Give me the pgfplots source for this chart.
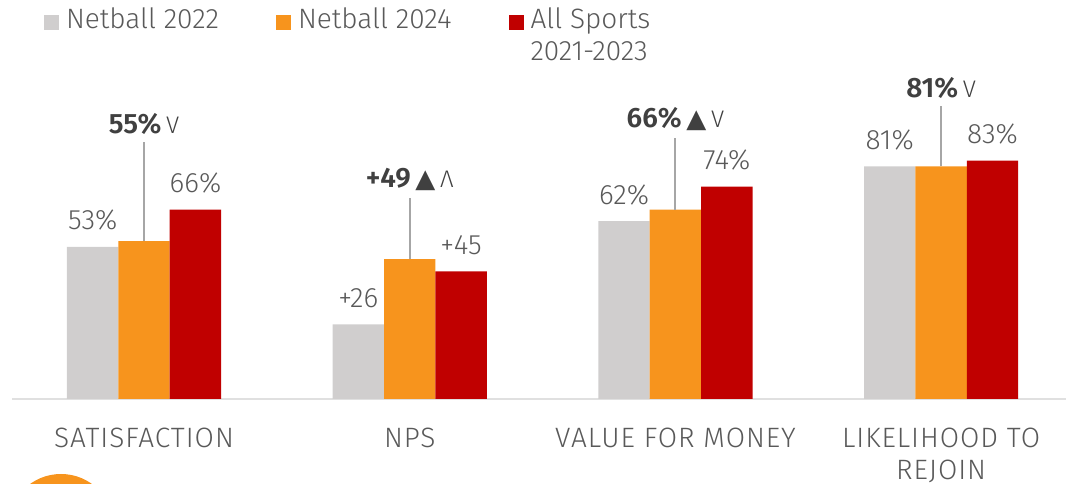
\documentclass[border=0pt]{standalone}
\usepackage{fontspec}
\usepackage{pgfplots}
\pgfplotsset{compat=1.18}
\setmainfont[BoldFont={Fira Sans SemiBold}]{Fira Sans Light}
\definecolor{cgrey}{HTML}{D0CECE}
\newfontfamily\symf{DejaVu Sans}
\definecolor{corange}{HTML}{F7941D}
\definecolor{cred}{HTML}{C00000}
\definecolor{ctext}{HTML}{595959}
\definecolor{cbold}{HTML}{404040}
\definecolor{cline}{HTML}{A6A6A6}
\newcommand{\fs}{\fontsize{28}{32}\selectfont}
\newcommand{\tri}{{\symf\fontsize{26}{26}\selectfont ▲}}
\newcommand{\dn}{{\mdseries\fontsize{24}{24}\selectfont V}}
\newcommand{\up}{{\mdseries\fontsize{24}{24}\selectfont Λ}}
\begin{document}
\begin{tikzpicture}[x=1pt,y=1pt]
\path[use as bounding box] (0,0) rectangle (1066,484);
\fill[corange] (61,-43) circle (53);
\begin{axis}[
  at={(12pt,85pt)}, anchor=south west,
  scale only axis, width=1054pt, height=399pt,
  xmin=-0.497, xmax=3.47, ymin=0, ymax=139,
  clip=false,
  axis x line=bottom, axis y line=none,
  axis line style={draw=black!12, line width=2pt, -},
  xtick={0,1,2,3},
  xticklabels={SATISFACTION,NPS,VALUE FOR MONEY,{LIKELIHOOD TO\\REJOIN}},
  x tick style={draw=none},
  x tick label style={font=\fs\addfontfeature{LetterSpace=3.5}, text=ctext, align=center, anchor=north, yshift=-27pt, inner sep=0pt},
  legend style={at={(rel axis cs:0,1)}, anchor=north west, xshift=32pt, yshift=-8pt, draw=none, fill=none,
    font=\fs, text=ctext, inner sep=0pt, outer sep=0pt,
    /tikz/every even column/.style={column sep=57pt},
    /tikz/every odd column/.style={column sep=7pt},
    nodes={inner sep=0pt, anchor=base west}},
  legend columns=3,
  legend cell align=left,
  legend image code/.code={\fill[#1] (0pt,-1pt) rectangle (15pt,14pt);},
  every node near coord/.append style={font=\fs, text=ctext, inner sep=16pt},
  point meta=explicit symbolic,
]
\addplot[ybar, bar shift=-51.4pt, bar width=51.4pt, draw=none, fill=cgrey,
    nodes near coords, nodes near coords style={xshift=-51.4pt}]
  coordinates {(0,53)[53\%] (1,26)[+26] (2,62)[62\%] (3,81)[81\%]};
\addlegendentry{Netball 2022}
\addplot[ybar, bar shift=0pt, bar width=51.4pt, draw=none, fill=corange]
  coordinates {(0,55) (1,48.7) (2,66) (3,81)};
\addlegendentry{Netball 2024}
\addplot[ybar, bar shift=51.4pt, bar width=51.4pt, draw=none, fill=cred,
    nodes near coords, nodes near coords style={xshift=51.4pt}]
  coordinates {(0,66)[66\%] (1,44.5)[+45] (2,74)[74\%] (3,83)[83\%]};
\addlegendentry{\parbox[t]{180pt}{All Sports\\2021-2023}}
\addplot[sharp plot, forget plot, no marks, draw=cline, line width=2pt]
  coordinates {(0,55) (0,89.5)} node[above, font=\fs, text=cbold, inner sep=7pt] {\textbf{55\%}\,\dn};
\addplot[sharp plot, forget plot, no marks, draw=cline, line width=2pt]
  coordinates {(1,48.7) (1,70)} node[above, font=\fs, text=cbold, inner sep=6pt] {\textbf{+49}\,\tri\,\up};
\addplot[sharp plot, forget plot, no marks, draw=cline, line width=2pt]
  coordinates {(2,66) (2,91)} node[above, font=\fs, text=cbold, inner sep=6pt] {\textbf{66\%}\,\tri\,\dn};
\addplot[sharp plot, forget plot, no marks, draw=cline, line width=2pt]
  coordinates {(3,81) (3,102)} node[above, font=\fs, text=cbold, inner sep=7pt] {\textbf{81\%}\,\dn};
\end{axis}
\end{tikzpicture}
\end{document}
